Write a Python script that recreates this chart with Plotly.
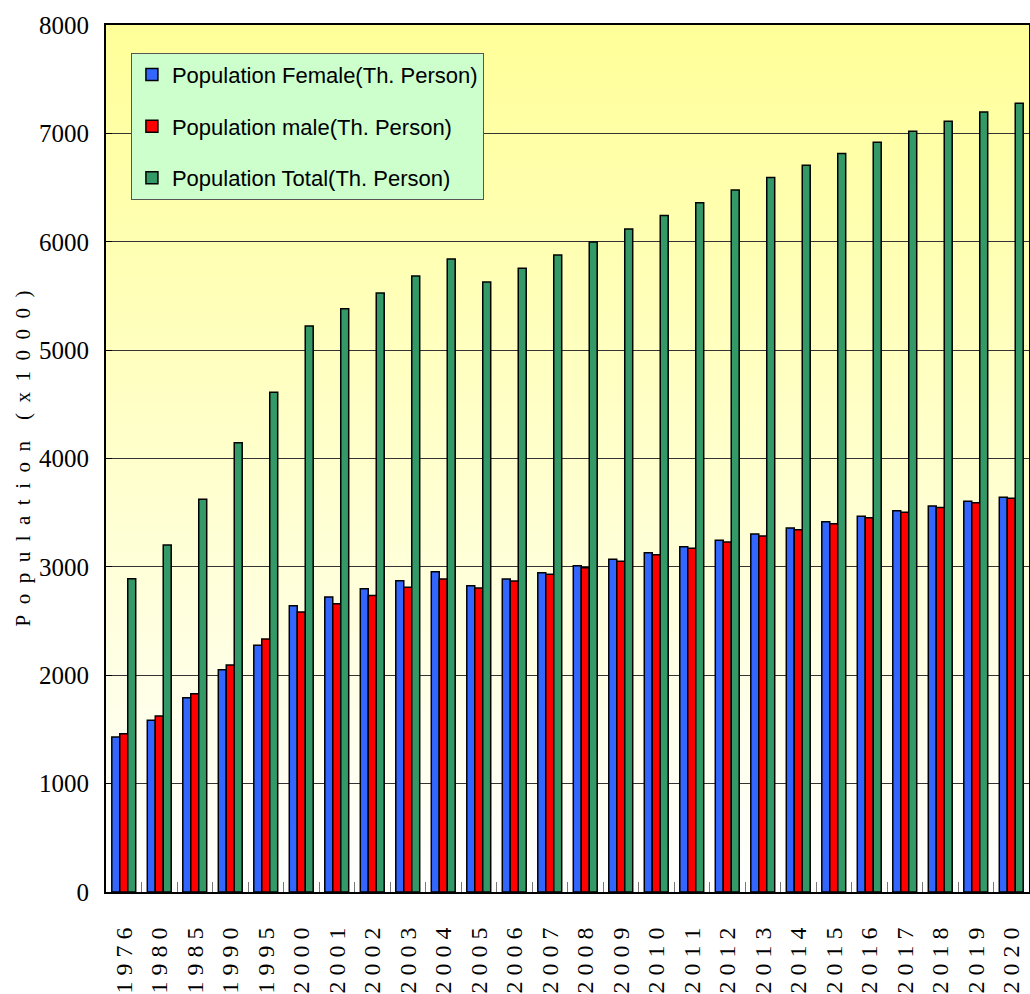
import base64
import plotly.graph_objects as go

# Years shown on the category axis
years = ["1976", "1980", "1985", "1990", "1995", "2000", "2001", "2002", "2003",
         "2004", "2005", "2006", "2007", "2008", "2009", "2010", "2011", "2012",
         "2013", "2014", "2015", "2016", "2017", "2018", "2019", "2020"]

# Population in thousands of persons
female = [1430, 1584, 1793, 2051, 2277, 2642, 2722, 2799, 2873, 2955, 2826, 2888, 2946,
          3011, 3070, 3131, 3186, 3245, 3304, 3359, 3417, 3466, 3518, 3562, 3605, 3642]
male = [1461, 1624, 1830, 2095, 2334, 2584, 2660, 2737, 2811, 2888, 2805, 2870, 2931,
        2993, 3051, 3112, 3171, 3229, 3286, 3342, 3398, 3454, 3503, 3549, 3592, 3633]
total = [2891, 3202, 3623, 4146, 4611, 5222, 5382, 5527, 5684, 5841, 5628, 5755, 5878,
         5998, 6117, 6243, 6360, 6478, 6592, 6705, 6815, 6918, 7019, 7112, 7198, 7278]

series_names = ["Population Female(Th. Person)",
                "Population male(Th. Person)",
                "Population Total(Th. Person)"]
y_ticks = [0, 1000, 2000, 3000, 4000, 5000, 6000, 7000, 8000]

NB = "\u00a0"
# spaced-out year labels for the vertical category axis
year_text = [NB.join(y) for y in years]
axis_title = (NB * 2).join("Population") + NB * 4 + (NB * 2).join("(x1000)")

serif = "Liberation Serif, Times New Roman, serif"
sans = "Liberation Sans, Arial, sans-serif"

# vertical yellow-to-white wash behind the bars
svg = ("<svg xmlns='http://www.w3.org/2000/svg' width='10' height='100' "
       "preserveAspectRatio='none'><defs><linearGradient id='g' x1='0' y1='0' "
       "x2='0' y2='1'><stop offset='0' stop-color='#FFFF99'/>"
       "<stop offset='1' stop-color='#FFFFFF'/></linearGradient></defs>"
       "<rect width='10' height='100' fill='url(#g)'/></svg>")
bg_uri = "data:image/svg+xml;base64," + base64.b64encode(svg.encode()).decode()

fig = go.Figure()
for name, vals, color in zip(series_names, [female, male, total],
                             ["#3366FF", "#FF0000", "#339966"]):
    fig.add_trace(go.Bar(
        x=years, y=vals, name=name, legendgroup=name,
        marker=dict(color=color, line=dict(color="black", width=1.5)),
    ))

fig.update_layout(
    width=1030, height=994,
    margin=dict(l=106, r=1, t=25, b=102),
    paper_bgcolor="white",
    plot_bgcolor="rgba(0,0,0,0)",
    barmode="group", bargap=0.326, bargroupgap=0,
    images=[dict(source=bg_uri, xref="paper", yref="paper", x=0, y=1,
                 sizex=1, sizey=1, sizing="stretch", layer="below")],
    legend=dict(
        x=0.027, y=0.968, xanchor="left", yanchor="top",
        bgcolor="#CCFFCC", bordercolor="#555555", borderwidth=1,
        font=dict(family=sans, size=22, color="black"),
        tracegroupgap=20, traceorder="grouped",
    ),
    showlegend=True,
)

fig.update_xaxes(
    type="category", tickvals=years, ticktext=year_text, tickangle=-90,
    tickfont=dict(family=serif, size=24, color="black"),
    ticks="inside", tickson="boundaries", ticklen=10, tickcolor="#777777", tickwidth=1,
    ticklabelstandoff=24, automargin=False,
    showline=True, linecolor="black", linewidth=2, mirror=True,
    showgrid=False,
)
fig.update_yaxes(
    range=[0, 8000], tickvals=y_ticks,
    tickfont=dict(family=serif, size=25, color="black"),
    ticks="inside", ticklen=6, tickcolor="black",
    ticklabelstandoff=10, automargin=False,
    showline=True, linecolor="black", linewidth=2, mirror=True,
    showgrid=True, gridcolor="#333333", gridwidth=1,
    zeroline=False,
    title=dict(text=axis_title, font=dict(family=serif, size=21, color="black"),
               standoff=3),
)

fig.write_html("out.html")
